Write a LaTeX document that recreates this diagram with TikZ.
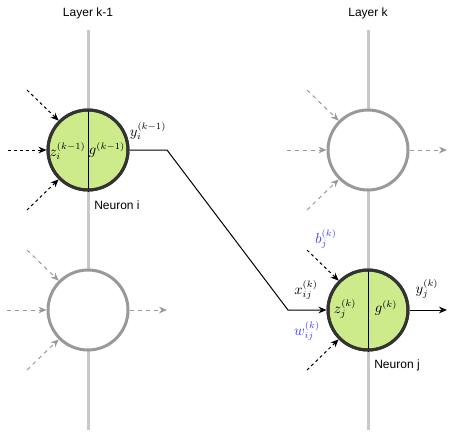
\documentclass[tikz,border=0pt]{standalone}
\usepackage{fontspec}
\setmainfont{Liberation Sans}
\usetikzlibrary{arrows.meta}
\definecolor{nfill}{HTML}{CDEB8B}
\definecolor{nstroke}{HTML}{333333}
\definecolor{gstroke}{HTML}{999999}
\definecolor{layerc}{HTML}{C8C8C8}
\definecolor{bluec}{HTML}{4040FF}
\tikzset{
  neuron/.style={circle, minimum size=60pt, inner sep=0pt, line width=2.25pt, draw=nstroke, fill=nfill},
  gneuron/.style={circle, minimum size=60pt, inner sep=0pt, line width=2.25pt, draw=gstroke, fill=white},
  layerline/.style={draw=layerc, line width=2.25pt},
  tipd/.style={-{Stealth[length=6pt,width=5pt]}},
  din/.style={tipd, dash pattern=on 2.25pt off 2.25pt, line width=0.75pt, black},
  gin/.style={tipd, dash pattern=on 3pt off 3pt, line width=0.75pt, gstroke},
  lbl/.style={font=\fontsize{9pt}{11pt}\selectfont, inner sep=0pt},
  mlbl/.style={inner sep=0pt, font=\fontsize{10.5pt}{12.5pt}\selectfont},
}
\begin{document}
\begin{tikzpicture}[x=0.75pt,y=-0.75pt]
\useasboundingbox (0,0) rectangle (456,433);
% layer titles
\node[lbl] (t1) at (88,13) {Layer k-1};
\node[lbl] (t2) at (368,13) {Layer k};
% coordinates for layer lines
\coordinate (l1top) at (88,30);
\coordinate (l1bot) at (88,430);
\coordinate (l2top) at (368,30);
\coordinate (l2bot) at (368,430);
\draw[layerline] (l1top) -- (l1bot);
\draw[layerline] (l2top) -- (l2bot);
% neurons
\node[neuron] (ni) at (88,150) {};
\node[gneuron] (nb) at (88,310) {};
\node[gneuron] (nt) at (368,150) {};
\node[neuron] (nj) at (368,310) {};
\draw[line width=0.75pt] (ni.north) -- (ni.south);
\draw[line width=0.75pt] (nj.north) -- (nj.south);
\node[neuron, fill=none] at (ni) {};
\node[neuron, fill=none] at (nj) {};
% inputs to neuron i
\coordinate (ia) at (27,90);
\coordinate (ib) at (8,150);
\coordinate (ic) at (27,210);
\draw[din] (ia) -- (ni.135);
\draw[din] (ib) -- (ni.west);
\draw[din] (ic) -- (ni.225);
% gray neuron bottom-left
\coordinate (ba) at (27,250);
\coordinate (bb) at (7,310);
\coordinate (bc) at (27,370);
\coordinate (bo) at (167,310);
\draw[gin] (ba) -- (nb.135);
\draw[gin] (bb) -- (nb.west);
\draw[gin] (bc) -- (nb.225);
\draw[gin] (nb.east) -- (bo);
% gray neuron top-right
\coordinate (ta) at (307,90);
\coordinate (tb) at (287,150);
\coordinate (tc) at (307,210);
\coordinate (to) at (447,150);
\draw[gin] (ta) -- (nt.135);
\draw[gin] (tb) -- (nt.west);
\draw[gin] (tc) -- (nt.225);
\draw[gin] (nt.east) -- (to);
% connection i -> j
\coordinate (c1) at (167,150);
\coordinate (c2) at (288,310);
\draw[tipd, line width=0.75pt] (ni.east) -- (c1) -- (c2) -- (nj.west);
% inputs to neuron j
\coordinate (ja) at (307,250);
\coordinate (jc) at (307,370);
\coordinate (jo) at (447,310);
\draw[din] (ja) -- (nj.135);
\draw[din] (jc) -- (nj.225);
\draw[tipd, line width=0.75pt] (nj.east) -- (jo);
% labels neuron i
\node[mlbl] (zi) at (67.5,151) {$z_i^{(k-1)}$};
\node[mlbl] (gi) at (107,150) {$g^{(k-1)}$};
\node[mlbl] (yi) at (148,131) {$y_i^{(k-1)}$};
\node[lbl] (nil) at (117,205) {Neuron i};
% labels neuron j
\node[mlbl] (zj) at (345,309) {$z_j^{(k)}$};
\node[mlbl] (gj) at (386,308) {$g^{(k)}$};
\node[mlbl] (yj) at (427,289) {$y_j^{(k)}$};
\node[mlbl] (xij) at (306,290) {$x_{ij}^{(k)}$};
\node[mlbl, text=bluec] (wij) at (307,331) {$w_{ij}^{(k)}$};
\node[mlbl, text=bluec] (bj) at (326,239) {$b_j^{(k)}$};
\node[lbl] (njl) at (397,365) {Neuron j};
\end{tikzpicture}
\end{document}
